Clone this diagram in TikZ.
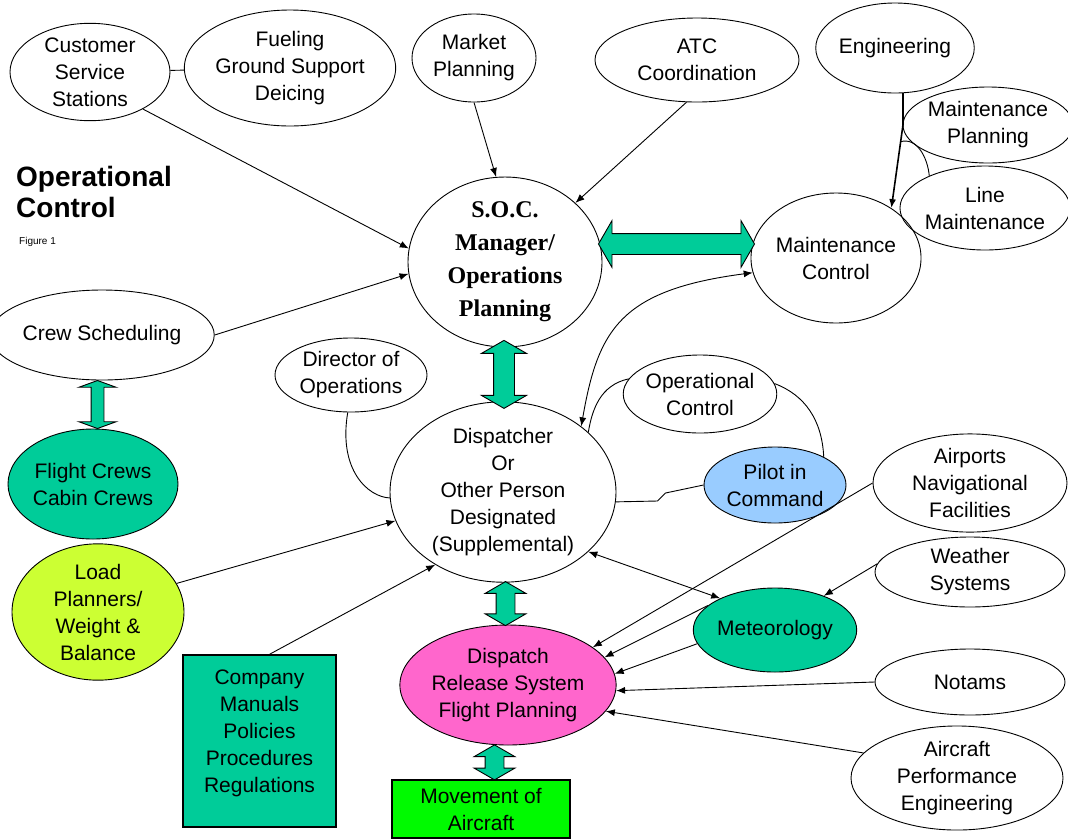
\documentclass[tikz,border=0pt]{standalone}
\usepackage[table]{xcolor}
\usepackage{fontspec}
\setmainfont{Liberation Sans}
\newfontfamily\socfont{Liberation Serif}
\usepackage{tikz}
\usetikzlibrary{shapes.geometric,shapes.arrows,arrows.meta,calc}

\definecolor{seagreen}{RGB}{0,204,153}
\definecolor{limegreen}{RGB}{204,255,51}
\definecolor{pilotblue}{RGB}{153,204,255}
\definecolor{releasepink}{RGB}{255,102,204}
\definecolor{movegreen}{RGB}{0,250,0}

\tikzset{
  bubble/.style={ellipse, draw, line width=0.9pt, inner sep=0pt, align=center,
                 font=\fontsize{21}{27}\selectfont},
  panel/.style={rectangle, draw, line width=1.4pt, inner sep=0pt, align=center,
                font=\fontsize{21}{27}\selectfont},
  link/.style={line width=0.9pt, -{Latex[length=9pt,width=7pt]}},
  twolink/.style={line width=0.9pt, {Latex[length=9pt,width=7pt]}-{Latex[length=9pt,width=7pt]}},
  plainlink/.style={line width=0.9pt},
  fatarrow/.style={double arrow, draw, line width=0.9pt, fill=seagreen, inner xsep=0pt,
                   double arrow tip angle=120, double arrow head indent=0pt}
}

\begin{document}
\begin{tikzpicture}[x=1pt,y=-1pt]
        \useasboundingbox (0,0) rectangle (1068,839);

        % title
        \node[anchor=north west, align=left, inner sep=0pt, font=\bfseries\fontsize{28}{31}\selectfont] (title) at (16,166) {Operational\\Control};
        \node[anchor=north west, inner sep=0pt, font=\fontsize{10}{11}\selectfont] (figno) at (19,237) {Figure 1};

        % top row
        \node[bubble, minimum width=160, minimum height=90]  (cust)    at (90,72)   {Customer\\Service\\Stations};
        \node[bubble, minimum width=176, minimum height=116] (fuel)    at (290,68)  {Fueling\\Ground Support\\Deicing};
        \node[bubble, minimum width=124, minimum height=88]  (market)  at (474,58)  {Market\\Planning};
        \node[bubble, minimum width=204, minimum height=84]  (atc)     at (697,60)  {ATC\\Coordination};
        \node[bubble, minimum width=122, minimum height=90]  (eng)     at (895,48)  {Engineering};
        \node[bubble, minimum width=160, minimum height=76]  (mplan)   at (988,125) {Maintenance\\Planning};
        \node[bubble, minimum width=164, minimum height=84]  (lmaint)  at (985,208) {Line\\Maintenance};

        % centre
        \node[bubble, minimum width=194, minimum height=150, font=\socfont\bfseries\fontsize{24}{33}\selectfont] (soc) at (505,262) {S.O.C.\\Manager/\\Operations\\Planning};
        \node[bubble, minimum width=146, minimum height=130] (mctrl)   at (836,258) {Maintenance\\Control};
        \node[bubble, minimum width=190, minimum height=90]  (crew)    at (102,335) {Crew Scheduling};
        \node[bubble, minimum width=160, minimum height=110, fill=seagreen] (fcrews) at (93,484) {Flight Crews\\Cabin Crews};
        \node[bubble, minimum width=152, minimum height=74]  (director) at (351,375) {Director of\\Operations};
        \node[bubble, minimum width=226, minimum height=176] (disp)    at (503,492) {Dispatcher\\Or\\Other Person\\Designated\\(Supplemental)};
        \node[bubble, minimum width=144, minimum height=78]  (opctrl)  at (700,394) {Operational\\Control};
        \node[bubble, minimum width=142, minimum height=76, fill=pilotblue] (pilot) at (775,485) {Pilot in\\Command};

        % right column
        \node[bubble, minimum width=194, minimum height=76]  (airports) at (970,483) {Airports\\Navigational\\Facilities};
        \node[bubble, minimum width=190, minimum height=70]  (weather) at (970,572) {Weather\\Systems};
        \node[bubble, minimum width=144, minimum height=84, fill=seagreen] (meteo) at (775,630) {Meteorology};
        \node[bubble, minimum width=190, minimum height=66]  (notams)  at (970,682) {Notams};
        \node[bubble, minimum width=212, minimum height=100] (perf)    at (957,778) {Aircraft\\Performance\\Engineering};

        % bottom
        \node[bubble, minimum width=172, minimum height=114, fill=limegreen] (load) at (98,612) {Load\\Planners/\\Weight \&\\Balance};
        \node[panel, minimum width=153, minimum height=172, fill=seagreen] (manuals) at (259.5,741) {Company\\Manuals\\Policies\\Procedures\\Regulations\\[-8pt]};
        \node[bubble, minimum width=210, minimum height=120, fill=releasepink] (release) at (508,685) {Dispatch\\Release System\\Flight Planning};
        \node[panel, minimum width=178, minimum height=58, fill=movegreen] (movement) at (481,809) {Movement of\\Aircraft};

        % fat two-way arrows
        \node[fatarrow, inner ysep=6pt, double arrow head extend=12pt, double arrow tip angle=140, minimum height=48, rotate=90] (crewlink) at ($(crew.south)!0.5!(fcrews.north)$) {};
        \node[fatarrow, inner ysep=10pt, double arrow head extend=12pt, minimum height=68, rotate=90] (soclink) at ($(soc.south)!0.5!(disp.north)$) {};
        \node[fatarrow, inner ysep=10pt, double arrow head extend=13pt, minimum height=156] (mctrllink) at ($(soc.east)!0.5!(mctrl.west)+(0,-16)$) {};
        \node[fatarrow, inner ysep=9pt, double arrow head extend=11pt, minimum height=44, rotate=90] (displink) at ($(disp.south)!0.5!(release.north)$) {};
        \node[fatarrow, inner ysep=9pt, double arrow head extend=11pt, minimum height=35, rotate=90] (movelink) at ($(release.south)!0.5!(movement.north)$) {};

        % thin links
        \draw[plainlink] (cust) -- (fuel);                                   %
        \draw[link]      (cust.-35)   -- (soc.172);                          %
        \draw[link]      (crew.east)  -- (soc.187);                          %
        \draw[link]      (market.south) -- (soc.96);                         %
        \draw[link]      (atc.-104)   -- (soc.40);                           %
        \coordinate (engbend) at (eng.-80 |- mplan.west);
        \draw[link, line width=1.6pt] (eng.-80) -- (engbend) -- (mctrl.42);  %
        \coordinate (jn) at ($(engbend)!0.2!(mctrl.42)$);
        \draw[plainlink] (jn) to[out=15,in=95] (lmaint.150);                 %
        \draw[twolink]   (disp.40) .. controls (598,330) and (620,290) .. (mctrl.190);
        \draw[plainlink] (director.-95) .. controls (338,470) and (368,497) .. (disp.183);
        \draw[plainlink] (opctrl.168) .. controls (600,385) and (592,410) .. (disp.35);
        \draw[plainlink] (opctrl.8) .. controls (805,395) and (822,420) .. (pilot.30);
        \draw[plainlink] (pilot.west) -- ++(-38,8) -- ++(-8,8) -- (disp.-5); %
        \draw[link]      (airports.west) -- (release.24);                    %
        \draw[twolink]   (disp.-35)   -- (meteo.150);                        %
        \draw[link]      (weather.175) -- (meteo.35);                        %
        \draw[link]      (meteo.160)  -- (release.16);                       %
        \draw[link]      (meteo.190)  -- (release.6);                        %
        \draw[link]      (notams.west) -- (release.-3);                      %
        \draw[link]      (perf.165)   -- (release.-15);                      %
        \draw[link]      (load.20)    -- (disp.195);                         %
        \draw[link]      ($(manuals.north)+(10,0)$) -- (disp.-133);          %
\end{tikzpicture}
\end{document}
